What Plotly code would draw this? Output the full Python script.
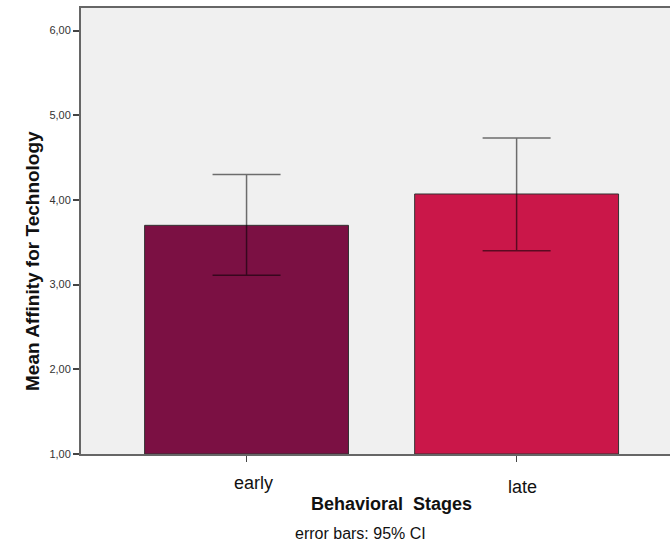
import plotly.graph_objects as go

categories = ["early", "late"]
means = [3.70, 4.07]
ci_upper = [4.30, 4.73]
ci_lower = [3.11, 3.40]
bar_colors = ["#7B1043", "#CA1749"]
y_tick_values = [1, 2, 3, 4, 5, 6]

x_pos = list(range(len(categories)))
err_plus = [u - m for u, m in zip(ci_upper, means)]
err_minus = [m - l for m, l in zip(means, ci_lower)]

fig = go.Figure()
fig.add_trace(go.Bar(
    x=x_pos, y=[m - 1 for m in means], base=1,
    width=0.755,
    marker=dict(color=bar_colors, line=dict(color="#333333", width=1)),
    error_y=dict(type="data", symmetric=False, array=err_plus, arrayminus=err_minus,
                 color="rgba(0,0,0,0.55)", thickness=1.5, width=34),
    showlegend=False,
    hoverinfo="skip",
))

font_family = "Liberation Sans, Arial, sans-serif"

fig.update_layout(
    width=670, height=544,
    margin=dict(l=81, r=0, t=8, b=90),
    paper_bgcolor="white",
    plot_bgcolor="#F0F0F0",
    separators=",.",
    font=dict(family=font_family, color="#222222"),
    xaxis=dict(
        range=[-0.613, 1.568],
        tickvals=x_pos, ticktext=["", ""],
        ticks="outside", ticklen=6, tickcolor="#444444", tickwidth=1,
        showline=True, linecolor="#666666", linewidth=2, mirror=True,
        showgrid=False, zeroline=False, fixedrange=True,
    ),
    yaxis=dict(
        range=[1, 6.266],
        tickvals=y_tick_values, tickformat=".2f",
        ticks="outside", ticklen=6, tickcolor="#444444", tickwidth=2,
        tickfont=dict(size=11, color="#333333"),
        showline=True, linecolor="#666666", linewidth=2,
        showgrid=False, zeroline=False, fixedrange=True,
    ),
)

annotations = []
label_shift = [(6.5, -28.5), (5.5, -32.5)]
for i, cat in enumerate(categories):
    annotations.append(dict(
        x=x_pos[i], y=0, xref="x", yref="paper", text=cat, showarrow=False,
        xanchor="center", yanchor="middle", xshift=label_shift[i][0], yshift=label_shift[i][1],
        font=dict(size=18, color="#111111"),
    ))
annotations.append(dict(
    x=0.528, y=-0.1132, xref="paper", yref="paper", text="<b>Behavioral  Stages</b>",
    showarrow=False, xanchor="center", yanchor="middle",
    font=dict(size=18, color="#111111"),
))
annotations.append(dict(
    x=0.4737, y=-0.1783, xref="paper", yref="paper", text="error bars: 95% CI",
    showarrow=False, xanchor="center", yanchor="middle",
    font=dict(size=16, color="#111111"),
))
annotations.append(dict(
    x=-0.0832, y=0.4327, xref="paper", yref="paper", text="<b>Mean Affinity for Technology</b>",
    showarrow=False, xanchor="center", yanchor="middle", textangle=-90,
    font=dict(size=19, color="#111111"),
))
fig.update_layout(annotations=annotations)

fig.write_html(
    "out.html",
    config={"displayModeBar": False, "staticPlot": True},
    post_script="document.body.style.margin='0';document.body.style.overflow='hidden';",
)
